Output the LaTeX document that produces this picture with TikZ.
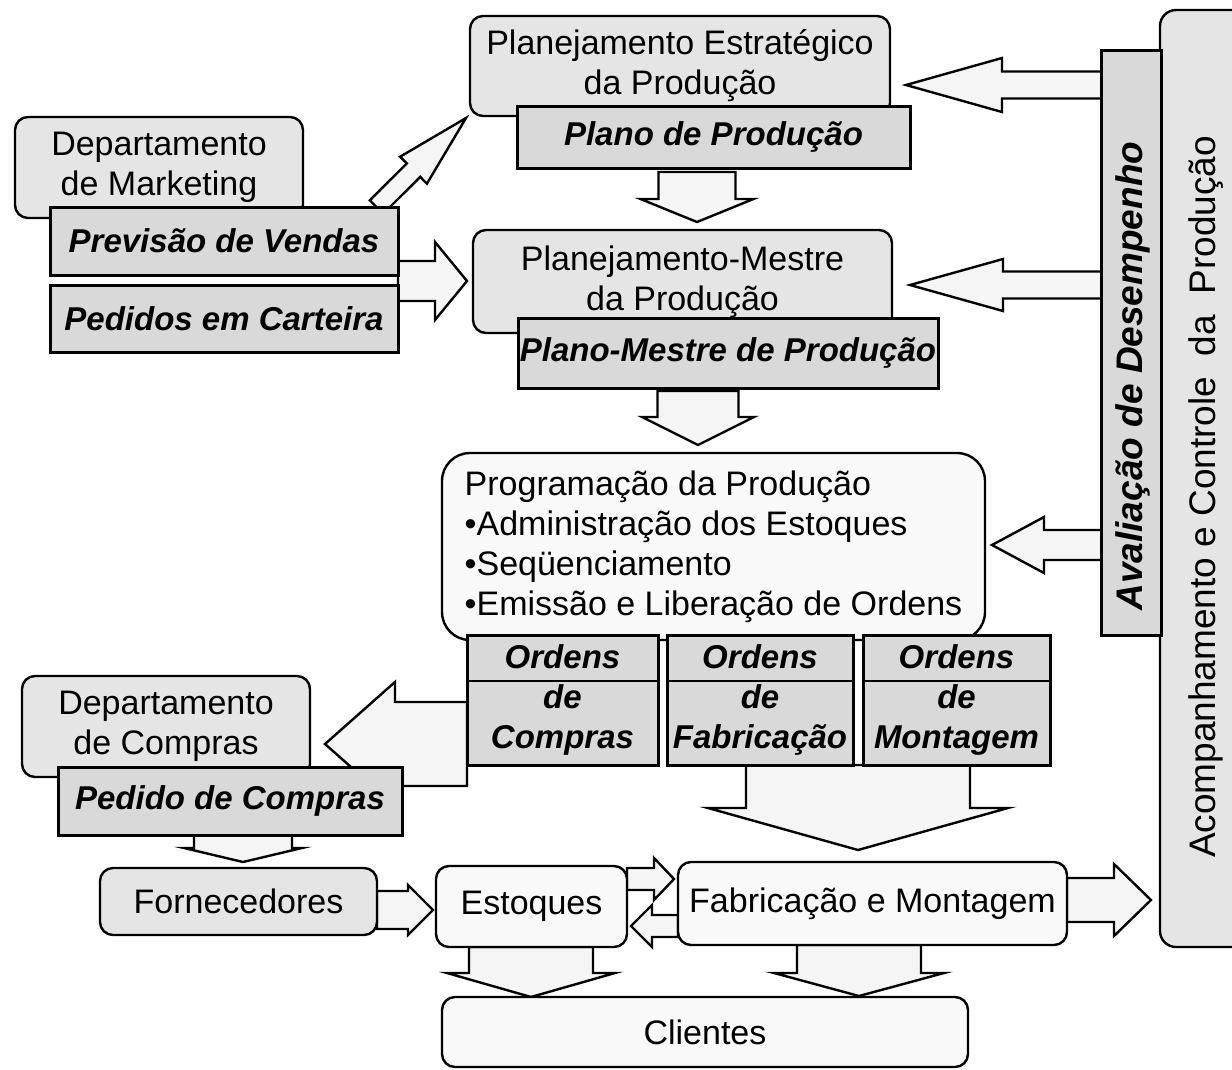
\documentclass[tikz,border=0pt]{standalone}
\usepackage{fontspec}
\setmainfont{Liberation Sans}
\usetikzlibrary{calc,backgrounds}

\newcommand{\barrow}[5]{%
  \draw[blockarrow] ($(#1)!#3pt!90:(#2)$) -- ($(#2)!#5pt!(#1)!#3pt!270:(#1)$)
    -- ($(#2)!#5pt!(#1)!#4pt!270:(#1)$) -- (#2)
    -- ($(#2)!#5pt!(#1)!#4pt!90:(#1)$) -- ($(#2)!#5pt!(#1)!#3pt!90:(#1)$)
    -- ($(#1)!#3pt!270:(#2)$) -- cycle;}

\tikzset{
  graybox/.style={draw, line width=2.4pt, rounded corners=13pt, fill=gray!20,
    align=center, font=\fontsize{34}{40}\selectfont, inner sep=0pt},
  lightbox/.style={draw, line width=2.4pt, rounded corners=13pt, fill=gray!5,
    align=center, font=\fontsize{34}{40}\selectfont, inner sep=0pt},
  subbox/.style={draw, line width=3pt, fill=gray!30, align=center,
    font=\bfseries\itshape\fontsize{33}{40}\selectfont, inner sep=0pt},
  blockarrow/.style={draw, line width=2.4pt, fill=gray!8, line join=miter},
  sepline/.style={line width=2.6pt},
}

\begin{document}
\begin{tikzpicture}[x=1pt,y=-1pt]
\useasboundingbox (0,0) rectangle (1232,1069);
\clip (0,0) rectangle (1232,1069);

% right column
\node[graybox, rounded corners=16pt, minimum width=110, minimum height=937] (acomp) at (1215,478.5) {};
\node[font=\fontsize{37}{40}\selectfont, rotate=90, inner sep=0pt] (acompt) at (1206,497)
  {Acompanhamento e Controle \ da \ Produção};
\node[subbox, minimum width=60, minimum height=585] (aval) at (1131,342.5) {};
\node[font=\bfseries\itshape\fontsize{37}{40}\selectfont, rotate=90, inner sep=0pt] (avalt) at (1133,376)
  {Avaliação de Desempenho};

% top planning boxes
\node[graybox, minimum width=420, minimum height=100] (pep) at (680,66)
  {Planejamento Estratégico\\da Produção};
\node[subbox, minimum width=393, minimum height=62] (pp) at (713.5,137) {Plano de Produção};
\node[graybox, minimum width=419, minimum height=103] (pmp) at (682.5,281.5)
  {Planejamento-Mestre\\da Produção};
\node[subbox, minimum width=420, minimum height=70] (pmpp) at (728,353) {Plano-Mestre de Produção};

% programming box
\node[lightbox, rounded corners=28pt, minimum width=543, minimum height=187, align=left]
  (prog) at (713.5,546.5)
  {Programação da Produção\\•Administração dos Estoques\\•Seqüenciamento\\•Emissão e Liberação de Ordens};
\node[subbox, minimum width=191, minimum height=130] (oc) at (562.5,700) {Ordens\\de\\Compras};
\node[subbox, minimum width=186, minimum height=130] (of) at (760,700) {Ordens\\de\\Fabricação};
\node[subbox, minimum width=187, minimum height=130] (om) at (956.5,700) {Ordens\\de\\Montagem};
\foreach \n in {oc,of,om}
  \draw[sepline] ([yshift=19pt]\n.west) -- ([yshift=19pt]\n.east);

% marketing
\node[graybox, minimum width=288, minimum height=101] (dm) at (159,167.5) {Departamento\\de Marketing};
\node[subbox, minimum width=348, minimum height=68] (pv) at (224,241) {Previsão de Vendas};
\node[subbox, minimum width=348, minimum height=67] (pc) at (224,318.5) {Pedidos em Carteira};

% purchasing
\node[graybox, minimum width=288, minimum height=101] (dc) at (166,726.5) {Departamento\\de Compras};
\node[subbox, minimum width=344, minimum height=68] (pdc) at (230,801) {Pedido de Compras};

% bottom row
\node[graybox, minimum width=277, minimum height=67] (forn) at (238.5,901.5) {Fornecedores};
\node[lightbox, minimum width=191, minimum height=81] (est) at (531.5,906.5) {Estoques};
\node[lightbox, minimum width=389, minimum height=83] (fab) at (872.5,903.5) {Fabricação e Montagem};
\node[lightbox, minimum width=526, minimum height=70] (cli) at (705,1032) {Clientes};

% block arrows
\coordinate (d1s) at (376.5,207);  \coordinate (d1e) at (466,118);
\coordinate (a1s) at (697,172);    \coordinate (a1e) at (697,222);
\coordinate (a2s) at (698,391);    \coordinate (a2e) at (698,445);
\coordinate (r1s) at (398,281);    \coordinate (r1e) at (467,281);
\coordinate (l1s) at (1102,85);    \coordinate (l1e) at (906,85);
\coordinate (l2s) at (1102,285);   \coordinate (l2e) at (910,285);
\coordinate (l3s) at (1102,545);   \coordinate (l3e) at (992,545);
\coordinate (l4s) at (467,744);    \coordinate (l4e) at (325,744);
\coordinate (n1s) at (243,835);    \coordinate (n1e) at (243,862);
\coordinate (r2s) at (377,910);    \coordinate (r2e) at (433,910);
\coordinate (r3s) at (627,879);    \coordinate (r3e) at (674,879);
\coordinate (l5s) at (678,926);    \coordinate (l5e) at (631,926);
\coordinate (bgs) at (858,765);    \coordinate (bge) at (858,850);
\coordinate (r4s) at (1067,900);   \coordinate (r4e) at (1151,900);
\coordinate (n2s) at (531,947);    \coordinate (n2e) at (531,997);
\coordinate (n3s) at (859,945);    \coordinate (n3e) at (859,996);

\begin{scope}[on background layer]
  \barrow{d1s}{d1e}{9.5}{19}{74}
  \barrow{a1s}{a1e}{38.5}{56.5}{23}
  \barrow{a2s}{a2e}{40.5}{56}{28}
  \barrow{r1s}{r1e}{20}{39}{32}
  \barrow{l1s}{l1e}{13.5}{27}{96}
  \barrow{l2s}{l2e}{13.5}{26}{93}
  \barrow{l3s}{l3e}{15}{28}{52}
  \barrow{l4s}{l4e}{42}{62}{70}
  \barrow{n1s}{n1e}{49}{59}{14}
  \barrow{r2s}{r2e}{19}{25}{25}
  \barrow{r3s}{r3e}{11}{21}{20}
  \barrow{l5s}{l5e}{11}{21}{21}
  \barrow{bgs}{bge}{112}{150}{42}
  \barrow{r4s}{r4e}{22}{36}{37}
  \barrow{n2s}{n2e}{62}{84}{24}
  \barrow{n3s}{n3e}{62}{85}{23}
\end{scope}
\end{tikzpicture}
\end{document}
